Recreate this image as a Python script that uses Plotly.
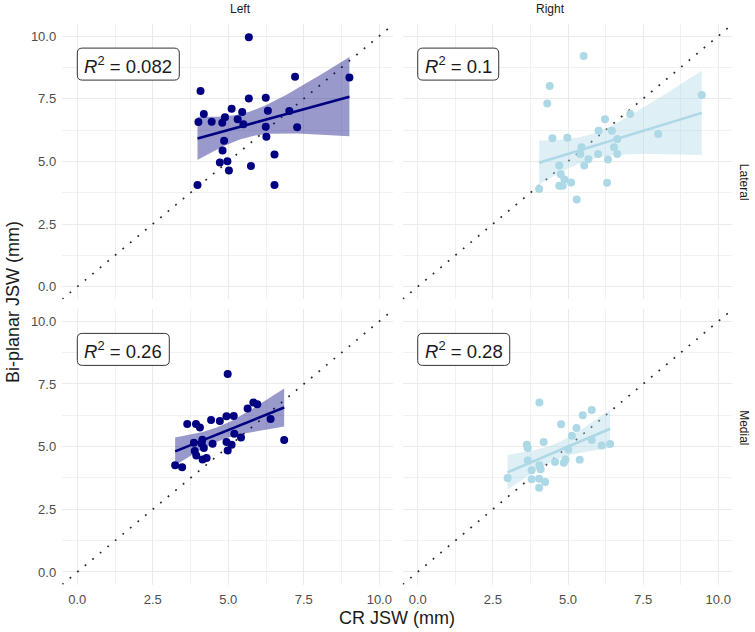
import numpy as np
import plotly.graph_objects as go

# ---------------- data ----------------
sides = ["Left", "Right"]
compartments = ["Lateral", "Medial"]

lat_left_cr = [5.68, 7.21, 9.01, 4.08, 5.68, 6.24, 4.19, 4.01, 4.45, 4.80, 4.89, 5.11, 5.31, 5.46, 5.50,
               6.24, 6.31, 7.02, 7.28, 6.26, 4.86, 4.81, 4.72, 4.97, 5.02, 5.75, 6.53, 3.98, 6.53]
lat_left_bp = [9.95, 8.38, 8.35, 7.81, 7.51, 7.54, 6.89, 6.57, 6.58, 6.54, 6.76, 7.10, 6.68, 6.97, 6.48,
               6.38, 7.02, 7.01, 6.36, 5.98, 5.82, 5.43, 4.95, 5.00, 4.63, 4.81, 5.27, 4.06, 4.06]

lat_right_cr = [5.52, 4.39, 4.31, 9.45, 7.07, 6.23, 6.02, 6.46, 4.48, 4.98, 6.64, 8.00, 5.45, 5.41, 5.54,
                5.68, 6.00, 6.33, 6.53, 6.64, 6.30, 5.29, 4.71, 4.76, 4.88, 5.10, 4.71, 4.82, 4.04]
lat_right_bp = [9.20, 8.01, 7.31, 7.65, 6.89, 6.68, 6.22, 6.22, 5.92, 5.94, 5.89, 6.09, 5.56, 5.29, 4.83,
                5.08, 5.29, 5.07, 5.56, 5.29, 4.15, 3.48, 4.83, 4.49, 4.28, 4.16, 4.03, 4.03, 3.90]

med_left_cr = [4.98, 3.64, 3.93, 4.06, 4.43, 4.72, 4.94, 5.18, 5.64, 5.83, 5.96, 6.40, 6.85, 3.86, 4.14,
               4.19, 4.48, 3.89, 3.94, 4.15, 4.28, 4.94, 5.11, 4.98, 5.20, 5.42, 3.24, 3.47, 4.12]
med_left_bp = [7.90, 5.90, 5.90, 5.76, 6.06, 6.02, 6.21, 6.22, 6.52, 6.76, 6.69, 6.10, 5.27, 5.16, 5.28,
               4.95, 5.12, 4.83, 4.65, 4.49, 4.55, 5.19, 5.08, 4.85, 5.51, 5.37, 4.26, 4.18, 5.12]

med_right_cr = [4.05, 5.79, 5.49, 4.77, 5.28, 5.13, 5.79, 3.63, 3.66, 4.19, 6.12, 6.40, 5.01, 3.66, 4.05,
                4.57, 4.86, 4.92, 5.39, 3.79, 4.09, 2.99, 3.79, 4.04, 4.24, 4.04]
med_right_bp = [6.76, 6.46, 6.25, 5.89, 5.74, 5.43, 5.27, 5.08, 4.95, 5.19, 5.05, 5.11, 4.89, 4.45, 4.26,
                4.39, 4.36, 4.49, 4.48, 4.06, 4.10, 3.75, 3.70, 3.72, 3.59, 3.36]

r2_labels = ["0.082", "0.1", "0.26", "0.28"]

tick_vals = [0, 2.5, 5, 7.5, 10]
tick_text = ["0.0", "2.5", "5.0", "7.5", "10.0"]

# ---------------- helpers ----------------
def t975(df):
    z = 1.959964
    return z + (z**3 + z) / (4 * df) + (5 * z**5 + 16 * z**3 + 3 * z) / (96 * df**2)

def fit(xs, ys, n_grid=80):
    x = np.asarray(xs, float)
    y = np.asarray(ys, float)
    n = len(x)
    b1, b0 = np.polyfit(x, y, 1)
    resid = y - (b0 + b1 * x)
    s = np.sqrt(np.sum(resid**2) / (n - 2))
    xm = x.mean()
    sxx = np.sum((x - xm) ** 2)
    g = np.linspace(x.min(), x.max(), n_grid)
    yh = b0 + b1 * g
    se = s * np.sqrt(1 / n + (g - xm) ** 2 / sxx)
    t = t975(n - 2)
    return g, yh, yh - t * se, yh + t * se

def rounded_rect(w, h, r):
    y0, y1 = -h / 2, h / 2
    return (f"M {r},{y0} L {w - r},{y0} Q {w},{y0} {w},{y0 + r} L {w},{y1 - r} "
            f"Q {w},{y1} {w - r},{y1} L {r},{y1} Q 0,{y1} 0,{y1 - r} L 0,{y0 + r} Q 0,{y0} {r},{y0} Z")

NAVY = "#000080"
LB = "#ADD8E6"
panels = [
    (lat_left_cr, lat_left_bp, NAVY, "rgba(0,0,128,0.4)", 1),
    (lat_right_cr, lat_right_bp, LB, "rgba(173,216,230,0.4)", 2),
    (med_left_cr, med_left_bp, NAVY, "rgba(0,0,128,0.4)", 3),
    (med_right_cr, med_right_bp, LB, "rgba(173,216,230,0.4)", 4),
]
box_w = [102, 81, 92, 92]   # label box widths in px (style)
label_y = 8.88

fig = go.Figure()
for (xs, ys, col, fill, k) in panels:
    ax = "" if k == 1 else str(k)
    xa, ya = "x" + ax, "y" + ax
    g, yh, lo, hi = fit(xs, ys)
    fig.add_trace(go.Scatter(x=[-1, 12], y=[-1, 12], mode="lines", xaxis=xa, yaxis=ya,
                             line=dict(color="#2a2a2a", width=1.7, dash="1.8px,8px"),
                             hoverinfo="skip", showlegend=False))
    fig.add_trace(go.Scatter(x=np.concatenate([g, g[::-1]]), y=np.concatenate([hi, lo[::-1]]),
                             mode="lines", fill="toself", fillcolor=fill, line=dict(width=0),
                             xaxis=xa, yaxis=ya, hoverinfo="skip", showlegend=False))
    fig.add_trace(go.Scatter(x=xs, y=ys, mode="markers", xaxis=xa, yaxis=ya,
                             marker=dict(color=col, size=8, line=dict(width=0)), showlegend=False))
    fig.add_trace(go.Scatter(x=g, y=yh, mode="lines", xaxis=xa, yaxis=ya,
                             line=dict(color=col, width=2.6), showlegend=False))
    w = box_w[k - 1]
    fig.add_shape(type="path", xref=xa, yref=ya, xsizemode="pixel", ysizemode="pixel",
                  xanchor=0, yanchor=label_y, path=rounded_rect(w, 32, 5),
                  fillcolor="white", line=dict(color="#333333", width=1), layer="above")
    fig.add_annotation(x=0, y=label_y, xref=xa, yref=ya, xanchor="center", yanchor="middle",
                       xshift=w / 2, yshift=-1,
                       text="<i>R</i><sup>2</sup> = " + r2_labels[k - 1], showarrow=False,
                       font=dict(family="Liberation Sans, Arial", size=18.5, color="#1a1a1a"))

W, H = 755, 632
xdom_left = [62.2 / W, 392.9 / W]
xdom_right = [402.7 / W, 731.8 / W]
ydom_top = [1 - 299.2 / H, 1 - 23.5 / H]
ydom_bot = [1 - 584.5 / H, 1 - 308.8 / H]

grid = dict(showgrid=True, gridcolor="#ebebeb", gridwidth=1, zeroline=False, showline=False,
            tickvals=tick_vals, ticktext=tick_text, ticks="",
            minor=dict(dtick=1.25, tick0=0, showgrid=True, gridcolor="#f1f1f1", gridwidth=1),
            tickfont=dict(family="Liberation Sans, Arial", size=13, color="#4d4d4d"))

xr = [-0.5, 10.45]
yr = [-0.5, 10.5]

layout = dict(
    width=W, height=H, margin=dict(l=0, r=0, t=0, b=0),
    plot_bgcolor="white", paper_bgcolor="white", showlegend=False,
    xaxis=dict(domain=xdom_left, range=xr, anchor="y", showticklabels=False, **grid),
    yaxis=dict(domain=ydom_top, range=yr, anchor="x", showticklabels=True, ticklabelstandoff=5, **grid),
    xaxis2=dict(domain=xdom_right, range=xr, anchor="y2", showticklabels=False, **grid),
    yaxis2=dict(domain=ydom_top, range=yr, anchor="x2", showticklabels=False, **grid),
    xaxis3=dict(domain=xdom_left, range=xr, anchor="y3", showticklabels=True, ticklabelstandoff=5, **grid),
    yaxis3=dict(domain=ydom_bot, range=yr, anchor="x3", showticklabels=True, ticklabelstandoff=5, **grid),
    xaxis4=dict(domain=xdom_right, range=xr, anchor="y4", showticklabels=True, ticklabelstandoff=5, **grid),
    yaxis4=dict(domain=ydom_bot, range=yr, anchor="x4", showticklabels=False, **grid),
)
fig.update_layout(**layout)

strip_font = dict(family="Liberation Sans, Arial", size=12, color="#1a1a1a")
fig.add_annotation(x=sum(xdom_left) / 2, y=1 - 9 / H, xref="paper", yref="paper", text=sides[0],
                   showarrow=False, font=strip_font, yanchor="middle")
fig.add_annotation(x=sum(xdom_right) / 2, y=1 - 9 / H, xref="paper", yref="paper", text=sides[1],
                   showarrow=False, font=strip_font, yanchor="middle")
fig.add_annotation(x=744 / W, y=sum(ydom_top) / 2, xref="paper", yref="paper", text=compartments[0],
                   showarrow=False, font=strip_font, textangle=90, xanchor="center")
fig.add_annotation(x=744 / W, y=sum(ydom_bot) / 2, xref="paper", yref="paper", text=compartments[1],
                   showarrow=False, font=strip_font, textangle=90, xanchor="center")

title_font = dict(family="Liberation Sans, Arial", size=18, color="#1a1a1a")
fig.add_annotation(x=(xdom_left[0] + xdom_right[1]) / 2, y=1 - 618 / H, xref="paper", yref="paper",
                   text="CR JSW (mm)", showarrow=False, font=title_font, yanchor="middle")
fig.add_annotation(x=13 / W, y=1 - 302 / H, xref="paper", yref="paper",
                   text="Bi-planar JSW (mm)", showarrow=False, font=title_font, textangle=-90,
                   xanchor="center", yanchor="middle")

fig.write_html("out.html")
